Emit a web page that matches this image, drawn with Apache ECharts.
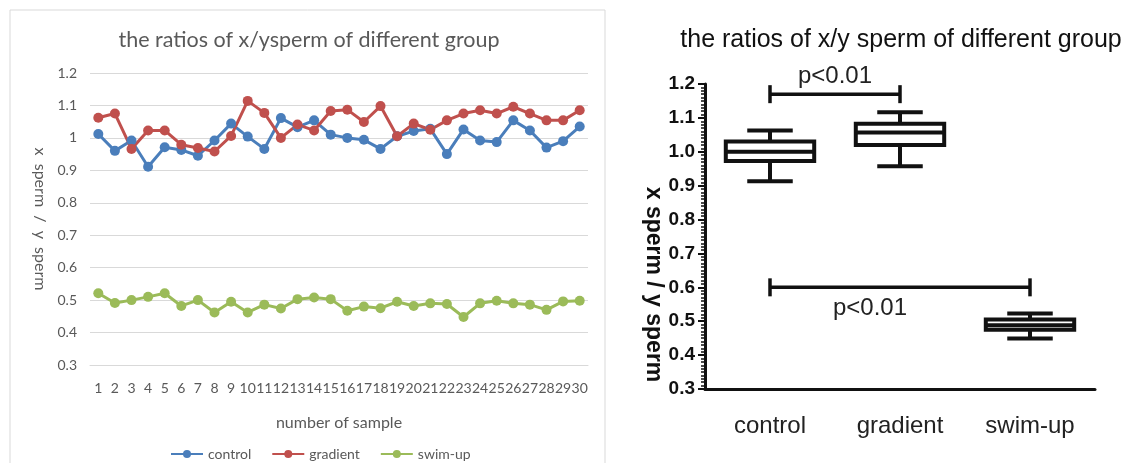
<!DOCTYPE html>
<html>
<head>
<meta charset="utf-8">
<script src="https://cdn.jsdelivr.net/npm/echarts@6/dist/echarts.min.js"></script>
<style>
html, body { margin: 0; padding: 0; background: #fff; }
#main { width: 1126px; height: 463px; }
</style>
</head>
<body>
<div id="main"></div>
<script>
// left panel: ratio per sample
var samples = ['1','2','3','4','5','6','7','8','9','10','11','12','13','14','15',
               '16','17','18','19','20','21','22','23','24','25','26','27','28','29','30'];
var control = [1.012, 0.960, 0.992, 0.911, 0.971, 0.963, 0.945, 0.992, 1.044, 1.004,
               0.966, 1.061, 1.033, 1.054, 1.010, 1.000, 0.994, 0.966, 1.005, 1.021,
               1.028, 0.950, 1.026, 0.992, 0.987, 1.054, 1.023, 0.970, 0.990, 1.035];
var gradient = [1.062, 1.075, 0.966, 1.023, 1.023, 0.979, 0.969, 0.958, 1.006, 1.114,
                1.077, 1.000, 1.041, 1.023, 1.083, 1.087, 1.049, 1.098, 1.005, 1.044,
                1.025, 1.054, 1.075, 1.085, 1.075, 1.096, 1.075, 1.054, 1.054, 1.085];
var swimUp = [0.521, 0.491, 0.500, 0.510, 0.521, 0.482, 0.500, 0.462, 0.495, 0.462,
              0.486, 0.474, 0.503, 0.508, 0.503, 0.467, 0.480, 0.475, 0.495, 0.482,
              0.490, 0.488, 0.448, 0.490, 0.498, 0.490, 0.486, 0.470, 0.496, 0.498];

// right panel: min, q1, median, q3, max
var groups = ['control', 'gradient', 'swim-up'];
var boxStats = [
    [0.913, 0.973, 1.000, 1.030, 1.063],
    [0.957, 1.020, 1.057, 1.083, 1.117],
    [0.449, 0.475, 0.488, 0.505, 0.523]
];
// significance brackets: from group, to group, height
var bracketFrom = [0, 0];
var bracketTo = [1, 2];
var bracketY = [1.17, 0.60];
var bracketText = ['p<0.01', 'p<0.01'];

var myChart = echarts.init(document.getElementById('main'));

var grayText = '#595959';
var boxData = boxStats.map(function (s, i) { return [i].concat(s); });
var bracketData = bracketY.map(function (y, i) { return [bracketFrom[i], bracketTo[i], y]; });

var option = {
    animation: false,
    graphic: [{
        type: 'rect',
        shape: { x: 10, y: 10, width: 595, height: 470 },
        style: { fill: 'none', stroke: '#d9d9d9', lineWidth: 1 },
        silent: true
    }],
    title: [{
        text: 'the ratios of x/ysperm of different group',
        left: 304,
        top: 24,
        textAlign: 'center',
        textStyle: { fontFamily: 'Lato', fontSize: 21.5, fontWeight: 400, color: grayText }
    }, {
        text: 'the ratios of x/y sperm of different group',
        left: 896,
        top: 23,
        textAlign: 'center',
        textStyle: { fontFamily: 'Liberation Sans', fontSize: 25, fontWeight: 400, color: '#111' }
    }],
    legend: {
        data: ['control', 'gradient', 'swim-up'],
        left: 165,
        top: 442,
        itemWidth: 32,
        itemHeight: 10,
        itemGap: 20,
        textStyle: { fontFamily: 'Lato', fontSize: 14, color: grayText }
    },
    grid: [
        { left: 90, right: 538, top: 73, bottom: 98 },
        { left: 705, right: 31, top: 84, bottom: 74 }
    ],
    xAxis: [{
        gridIndex: 0,
        type: 'category',
        data: samples,
        name: 'number of sample',
        nameLocation: 'middle',
        nameGap: 50,
        nameTextStyle: { fontFamily: 'Lato', fontSize: 16, color: grayText },
        axisLine: { lineStyle: { color: '#d9d9d9' } },
        axisTick: { show: false },
        axisLabel: { interval: 0, margin: 16, fontFamily: 'Lato', fontSize: 14, color: grayText }
    }, {
        gridIndex: 1,
        type: 'category',
        data: groups,
        axisLine: { lineStyle: { color: '#111', width: 3 } },
        axisTick: { alignWithLabel: true, length: 8, lineStyle: { color: '#111', width: 2.5 } },
        axisLabel: { margin: 25, fontFamily: 'Liberation Sans', fontSize: 24, color: '#222' }
    }],
    yAxis: [{
        gridIndex: 0,
        type: 'value',
        min: 0.3,
        max: 1.2,
        interval: 0.1,
        name: 'x  sperm  /  y  sperm',
        nameLocation: 'middle',
        nameRotate: -90,
        nameGap: 42,
        nameTextStyle: { fontFamily: 'Lato', fontSize: 16, color: grayText },
        axisLine: { show: false },
        axisTick: { show: false },
        splitLine: { lineStyle: { color: '#d9d9d9' } },
        axisLabel: { margin: 13, fontFamily: 'Lato', fontSize: 14, color: grayText }
    }, {
        gridIndex: 1,
        type: 'value',
        min: 0.3,
        max: 1.2,
        interval: 0.1,
        name: 'x sperm / y sperm',
        nameLocation: 'middle',
        nameRotate: -90,
        nameGap: 37,
        nameTextStyle: {
            fontFamily: 'Liberation Sans', fontSize: 23, fontWeight: 'bold', color: '#111',
            padding: [0, 0, 0, 96]
        },
        axisLine: { show: true, lineStyle: { color: '#111', width: 3 } },
        axisTick: { show: true, length: 7, lineStyle: { color: '#111', width: 2 } },
        minorTick: { show: true, splitNumber: 10, length: 4, lineStyle: { color: '#111', width: 1.5 } },
        splitLine: { show: false },
        axisLabel: {
            margin: 10, fontFamily: 'Liberation Sans', fontSize: 19, fontWeight: 'bold', color: '#111',
            formatter: function (v) { return v.toFixed(1); }
        }
    }],
    series: [{
        name: 'control',
        type: 'line',
        xAxisIndex: 0,
        yAxisIndex: 0,
        data: control,
        symbol: 'circle',
        symbolSize: 10,
        color: '#4a7ebb',
        lineStyle: { width: 3 }
    }, {
        name: 'gradient',
        type: 'line',
        xAxisIndex: 0,
        yAxisIndex: 0,
        data: gradient,
        symbol: 'circle',
        symbolSize: 10,
        color: '#c0504d',
        lineStyle: { width: 3 }
    }, {
        name: 'swim-up',
        type: 'line',
        xAxisIndex: 0,
        yAxisIndex: 0,
        data: swimUp,
        symbol: 'circle',
        symbolSize: 10,
        color: '#9bbb59',
        lineStyle: { width: 3 }
    }, {
        // box and whisker, caps half as wide as the box
        type: 'custom',
        xAxisIndex: 1,
        yAxisIndex: 1,
        data: boxData,
        encode: { x: 0, y: [1, 2, 3, 4, 5] },
        renderItem: function (params, api) {
            var i = api.value(0);
            var pMin = api.coord([i, api.value(1)]);
            var pQ1 = api.coord([i, api.value(2)]);
            var pMed = api.coord([i, api.value(3)]);
            var pQ3 = api.coord([i, api.value(4)]);
            var pMax = api.coord([i, api.value(5)]);
            var band = api.size([1, 0])[0];
            var bw = band * 0.68;
            var cw = band * 0.35;
            var cx = pMed[0];
            var st = { stroke: '#111', lineWidth: 4, fill: 'none' };
            return {
                type: 'group',
                children: [
                    { type: 'line', shape: { x1: cx, y1: pQ3[1], x2: cx, y2: pMax[1] }, style: st },
                    { type: 'line', shape: { x1: cx, y1: pQ1[1], x2: cx, y2: pMin[1] }, style: st },
                    { type: 'line', shape: { x1: cx - cw / 2, y1: pMax[1], x2: cx + cw / 2, y2: pMax[1] }, style: st },
                    { type: 'line', shape: { x1: cx - cw / 2, y1: pMin[1], x2: cx + cw / 2, y2: pMin[1] }, style: st },
                    { type: 'rect', shape: { x: cx - bw / 2, y: pQ3[1], width: bw, height: pQ1[1] - pQ3[1] },
                      style: { stroke: '#111', lineWidth: 4, fill: '#fff' } },
                    { type: 'line', shape: { x1: cx - bw / 2, y1: pMed[1], x2: cx + bw / 2, y2: pMed[1] }, style: st }
                ]
            };
        }
    }, {
        type: 'custom',
        xAxisIndex: 1,
        yAxisIndex: 1,
        data: bracketData,
        encode: { x: [0, 1], y: 2 },
        renderItem: function (params, api) {
            var a = api.coord([api.value(0), api.value(2)]);
            var b = api.coord([api.value(1), api.value(2)]);
            var idx = params.dataIndex;
            var above = idx === 0;
            var st = { stroke: '#111', lineWidth: 3.5 };
            var tx = above ? (a[0] + b[0]) / 2 : (a[0] + b[0]) / 2 - 30;
            var ty = above ? a[1] - 18 : a[1] + 21;
            return {
                type: 'group',
                children: [
                    { type: 'line', shape: { x1: a[0], y1: a[1], x2: b[0], y2: b[1] }, style: st },
                    { type: 'line', shape: { x1: a[0], y1: a[1] - 9, x2: a[0], y2: a[1] + 9 }, style: st },
                    { type: 'line', shape: { x1: b[0], y1: b[1] - 9, x2: b[0], y2: b[1] + 9 }, style: st },
                    { type: 'text', x: tx, y: ty,
                      style: { text: bracketText[idx], fill: '#222', align: 'center', verticalAlign: 'middle',
                               font: '24px "Liberation Sans"' } }
                ]
            };
        }
    }]
};
myChart.setOption(option);
</script>
</body>
</html>
